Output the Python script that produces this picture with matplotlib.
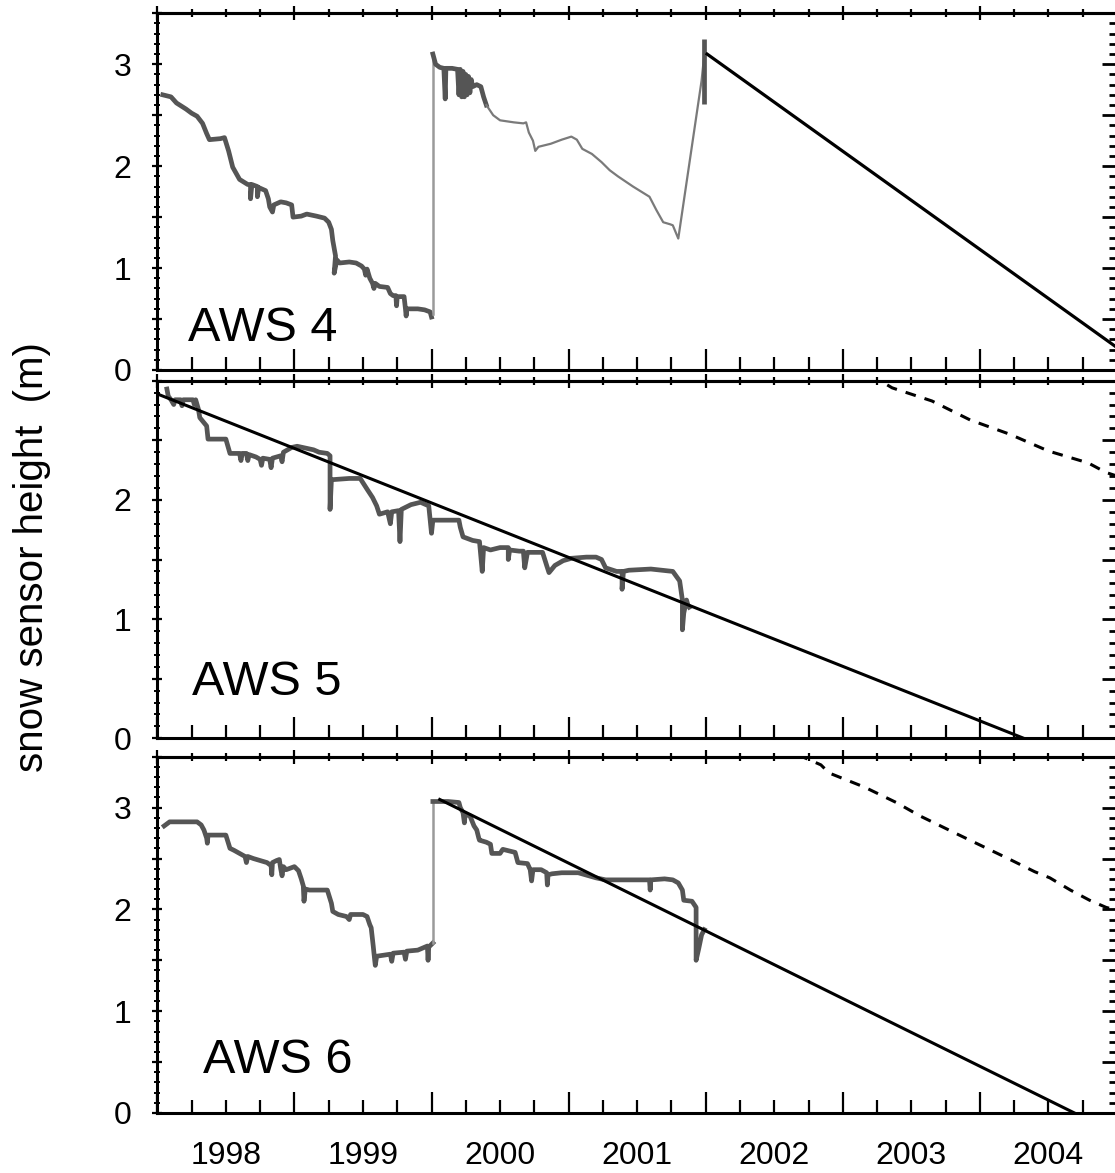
import matplotlib
matplotlib.use("Agg")
import matplotlib.pyplot as plt
from matplotlib.ticker import MultipleLocator, FuncFormatter, NullFormatter

plt.rcParams['font.family'] = ['Liberation Sans', 'DejaVu Sans']

# ---------------- data (decimal year, snow sensor height in m) ----------------
# AWS 4
aws4_a_year = [1998.04, 1998.10, 1998.14, 1998.21, 1998.25, 1998.29, 1998.33, 1998.36, 1998.38, 1998.46,
               1998.49, 1998.52, 1998.55, 1998.60, 1998.66, 1998.68, 1998.68, 1998.69, 1998.73, 1998.73,
               1998.74, 1998.79, 1998.81, 1998.82, 1998.84, 1998.85, 1998.90, 1998.94, 1998.98, 1998.99,
               1999.05, 1999.09, 1999.16, 1999.22, 1999.25, 1999.27, 1999.28, 1999.30, 1999.29, 1999.31,
               1999.33, 1999.40, 1999.45, 1999.49, 1999.51, 1999.52, 1999.53, 1999.55, 1999.57, 1999.58,
               1999.59, 1999.62, 1999.68, 1999.70, 1999.72, 1999.74, 1999.745, 1999.75, 1999.80, 1999.81,
               1999.815, 1999.82, 1999.90, 1999.95, 1999.99, 2000.00]
aws4_a_val = [2.70, 2.68, 2.62, 2.56, 2.52, 2.49, 2.42, 2.32, 2.26, 2.27,
              2.28, 2.15, 1.99, 1.87, 1.82, 1.82, 1.68, 1.82, 1.80, 1.70,
              1.79, 1.76, 1.68, 1.60, 1.55, 1.62, 1.65, 1.64, 1.62, 1.50,
              1.51, 1.53, 1.51, 1.49, 1.45, 1.38, 1.27, 1.12, 0.95, 1.08,
              1.05, 1.06, 1.05, 1.02, 0.99, 0.93, 0.99, 0.90, 0.85, 0.80,
              0.85, 0.82, 0.81, 0.75, 0.73, 0.73, 0.63, 0.72, 0.72, 0.60,
              0.53, 0.60, 0.60, 0.59, 0.57, 0.52]
aws4_jump_year = [2000.01, 2000.01]
aws4_jump_val = [0.55, 3.10]
aws4_b_year = [2000.01, 2000.03, 2000.06, 2000.09, 2000.10, 2000.105, 2000.15, 2000.19, 2000.20, 2000.21,
               2000.22, 2000.23, 2000.24, 2000.25, 2000.26, 2000.27, 2000.28, 2000.29, 2000.30, 2000.33,
               2000.36, 2000.38, 2000.40]
aws4_b_val = [3.10, 3.00, 2.97, 2.96, 2.66, 2.96, 2.96, 2.95, 2.70, 2.95,
              2.68, 2.93, 2.68, 2.90, 2.70, 2.88, 2.72, 2.85, 2.78, 2.80,
              2.78, 2.68, 2.60]
aws4_c_year = [2000.40, 2000.45, 2000.50, 2000.60, 2000.67, 2000.69, 2000.71, 2000.74, 2000.757, 2000.78,
               2000.87, 2000.95, 2001.02, 2001.06, 2001.10, 2001.17, 2001.24, 2001.30, 2001.36, 2001.47,
               2001.59, 2001.64, 2001.69, 2001.74, 2001.76, 2001.80, 2001.97, 2001.99]
aws4_c_val = [2.60, 2.50, 2.45, 2.43, 2.42, 2.43, 2.33, 2.25, 2.15, 2.19,
              2.22, 2.26, 2.29, 2.26, 2.17, 2.12, 2.04, 1.96, 1.90, 1.80,
              1.70, 1.57, 1.45, 1.43, 1.42, 1.29, 2.84, 3.10]
aws4_spike_year = [2001.99, 2001.99]
aws4_spike_val = [3.25, 2.61]
aws4_fit_year = [2002.01, 2005.0]
aws4_fit_val = [3.10, 0.22]

# AWS 5
aws5_year = [1998.07, 1998.08, 1998.10, 1998.12, 1998.13, 1998.17, 1998.18, 1998.19, 1998.26, 1998.27,
             1998.28, 1998.30, 1998.31, 1998.36, 1998.37, 1998.50, 1998.53, 1998.60, 1998.61, 1998.62,
             1998.65, 1998.66, 1998.67, 1998.72, 1998.75, 1998.76, 1998.77, 1998.82, 1998.83, 1998.84,
             1998.90, 1998.91, 1998.92, 1998.98, 1999.02, 1999.10, 1999.14, 1999.18, 1999.24, 1999.26,
             1999.26, 1999.27, 1999.28, 1999.40, 1999.48, 1999.53, 1999.57, 1999.60, 1999.62, 1999.68,
             1999.70, 1999.71, 1999.76, 1999.77, 1999.78, 1999.85, 1999.92, 1999.98, 2000.00, 2000.01,
             2000.10, 2000.20, 2000.21, 2000.23, 2000.30, 2000.35, 2000.37, 2000.38, 2000.43, 2000.50,
             2000.52, 2000.56, 2000.56, 2000.57, 2000.64, 2000.67, 2000.68, 2000.70, 2000.81, 2000.84,
             2000.857, 2000.90, 2000.96, 2001.02, 2001.13, 2001.20, 2001.24, 2001.27, 2001.35, 2001.39,
             2001.39, 2001.40, 2001.44, 2001.60, 2001.76, 2001.81, 2001.83, 2001.83, 2001.84, 2001.86,
             2001.87, 2001.88]
aws5_val = [2.93, 2.87, 2.84, 2.80, 2.84, 2.84, 2.79, 2.84, 2.84, 2.80,
            2.84, 2.76, 2.69, 2.62, 2.51, 2.51, 2.39, 2.39, 2.33, 2.39,
            2.39, 2.33, 2.38, 2.36, 2.34, 2.29, 2.35, 2.34, 2.27, 2.35,
            2.37, 2.32, 2.40, 2.44, 2.45, 2.43, 2.42, 2.40, 2.39, 2.37,
            1.92, 2.17, 2.17, 2.18, 2.18, 2.09, 2.02, 1.95, 1.88, 1.90,
            1.80, 1.90, 1.91, 1.65, 1.92, 1.96, 1.98, 1.95, 1.72, 1.83,
            1.83, 1.83, 1.77, 1.69, 1.66, 1.65, 1.40, 1.60, 1.58, 1.60,
            1.60, 1.60, 1.50, 1.58, 1.57, 1.57, 1.43, 1.56, 1.56, 1.45,
            1.39, 1.45, 1.49, 1.51, 1.52, 1.52, 1.50, 1.43, 1.40, 1.40,
            1.25, 1.40, 1.41, 1.42, 1.40, 1.32, 1.16, 0.91, 1.05, 1.16,
            1.12, 1.10]
aws5_fit_year = [1998.02, 2004.32]
aws5_fit_val = [2.88, 0.0]
aws5_dash_year = [2003.20, 2003.36, 2003.65, 2003.93, 2004.22, 2004.50, 2004.79, 2004.92, 2005.0]
aws5_dash_val = [3.05, 2.94, 2.83, 2.67, 2.55, 2.41, 2.31, 2.23, 2.20]

# AWS 6
aws6_a_year = [1998.05, 1998.09, 1998.20, 1998.29, 1998.32, 1998.34, 1998.36, 1998.365, 1998.37, 1998.50,
               1998.53, 1998.56, 1998.60, 1998.64, 1998.65, 1998.66, 1998.70, 1998.75, 1998.80, 1998.83,
               1998.835, 1998.84, 1998.87, 1998.89, 1998.90, 1998.91, 1998.92, 1998.94, 1999.00, 1999.03,
               1999.05, 1999.065, 1999.07, 1999.08, 1999.11, 1999.24, 1999.27, 1999.28, 1999.32, 1999.38,
               1999.40, 1999.41, 1999.50, 1999.53, 1999.55, 1999.56, 1999.575, 1999.585, 1999.59, 1999.60,
               1999.65, 1999.70, 1999.71, 1999.72, 1999.80, 1999.81, 1999.82, 1999.90, 1999.97, 1999.975,
               1999.98, 2000.01]
aws6_a_val = [2.82, 2.86, 2.86, 2.86, 2.83, 2.78, 2.70, 2.65, 2.73, 2.73,
              2.60, 2.58, 2.55, 2.52, 2.46, 2.52, 2.50, 2.48, 2.46, 2.43,
              2.34, 2.46, 2.48, 2.49, 2.40, 2.33, 2.42, 2.39, 2.42, 2.38,
              2.30, 2.23, 2.08, 2.20, 2.19, 2.19, 2.06, 1.98, 1.95, 1.93,
              1.90, 1.95, 1.95, 1.93, 1.85, 1.82, 1.64, 1.51, 1.45, 1.54,
              1.55, 1.56, 1.49, 1.57, 1.58, 1.51, 1.59, 1.60, 1.64, 1.50,
              1.63, 1.67]
aws6_jump_year = [2000.01, 2000.01]
aws6_jump_val = [1.67, 3.06]
aws6_b_year = [2000.01, 2000.05, 2000.12, 2000.20, 2000.21, 2000.23, 2000.24, 2000.245, 2000.28, 2000.31,
               2000.33, 2000.345, 2000.35, 2000.40, 2000.43, 2000.44, 2000.50, 2000.52, 2000.61, 2000.63,
               2000.70, 2000.72, 2000.73, 2000.74, 2000.80, 2000.84, 2000.845, 2000.85, 2000.88, 2000.95,
               2001.07, 2001.20, 2001.27, 2001.40, 2001.59, 2001.595, 2001.60, 2001.70, 2001.76, 2001.80,
               2001.83, 2001.84, 2001.90, 2001.93, 2001.93, 2001.95, 2001.97, 2001.99]
aws6_b_val = [3.06, 3.06, 3.06, 3.05, 3.00, 2.95, 2.85, 2.93, 2.92, 2.82,
              2.78, 2.70, 2.68, 2.66, 2.64, 2.55, 2.55, 2.59, 2.56, 2.46,
              2.45, 2.39, 2.28, 2.39, 2.39, 2.36, 2.24, 2.34, 2.35, 2.36,
              2.36, 2.31, 2.29, 2.29, 2.29, 2.19, 2.29, 2.30, 2.29, 2.26,
              2.19, 2.09, 2.08, 2.02, 1.50, 1.62, 1.75, 1.80]
aws6_fit_year = [2000.06, 2004.69]
aws6_fit_val = [3.08, 0.0]
aws6_dash_year = [2002.67, 2002.84, 2002.90, 2003.16, 2003.39, 2003.56, 2003.85, 2004.22, 2004.40, 2004.51,
                  2004.66, 2004.80, 2004.92, 2005.0]
aws6_dash_val = [3.52, 3.42, 3.34, 3.20, 3.05, 2.92, 2.73, 2.49, 2.37, 2.31,
                 2.19, 2.09, 2.02, 1.99]

year_labels = ['1998', '1999', '2000', '2001', '2002', '2003', '2004']
station_names = ['AWS 4', 'AWS 5', 'AWS 6']

# ---------------- figure ----------------
W, H = 1115, 1173
fig = plt.figure(figsize=(W / 100, H / 100), dpi=100)


def rect(left, top, right, bottom):
    return [left / W, 1 - bottom / H, (right - left) / W, (bottom - top) / H]


ax1 = fig.add_axes(rect(157.3, 13.3, 1117, 370))
ax2 = fig.add_axes(rect(157.3, 380.7, 1117, 738.3))
ax3 = fig.add_axes(rect(157.3, 756.7, 1117, 1113))

DARK = '#555555'
THIN = '#7a7a7a'
LIGHT = '#9a9a9a'


def style(ax, ymax, ylab_max, show_x):
    ax.set_xlim(1998, 2005)
    ax.set_ylim(0, ymax)
    for s in ax.spines.values():
        s.set_linewidth(2.2)
    # x axis (bottom)
    ax.xaxis.set_major_locator(MultipleLocator(1))
    ax.xaxis.set_minor_locator(MultipleLocator(0.25))
    ax.xaxis.set_major_formatter(NullFormatter())
    if show_x:
        ax.xaxis.set_minor_formatter(FuncFormatter(
            lambda x, p: year_labels[int(x) - 1998] if abs((x % 1) - 0.5) < 1e-6 and 0 <= int(x) - 1998 < len(year_labels) else ''))
    else:
        ax.xaxis.set_minor_formatter(NullFormatter())
    ax.tick_params(axis='x', which='major', direction='in', length=15, width=1.6,
                   bottom=True, top=False)
    ax.tick_params(axis='x', which='minor', direction='in', length=9.4, width=1.6,
                   bottom=True, top=False, labelsize=23, pad=20)
    # y axis (left)
    ax.yaxis.set_major_locator(MultipleLocator(0.5))
    ax.yaxis.set_minor_locator(MultipleLocator(0.1))
    ax.yaxis.set_major_formatter(FuncFormatter(
        lambda v, p: f'{int(round(v))}' if abs(v - round(v)) < 1e-6 and v <= ylab_max + 1e-6 else ''))
    ax.tick_params(axis='y', which='major', direction='inout', length=7, width=1.6,
                   left=True, right=False, labelsize=23, pad=15)
    ax.tick_params(axis='y', which='minor', direction='inout', length=5, width=1.4,
                   left=True, right=False)
    # top ticks
    sx = ax.secondary_xaxis('top')
    sx.xaxis.set_major_locator(MultipleLocator(1))
    sx.xaxis.set_minor_locator(MultipleLocator(0.25))
    sx.xaxis.set_major_formatter(NullFormatter())
    sx.xaxis.set_minor_formatter(NullFormatter())
    sx.tick_params(which='major', direction='inout', length=10, width=1.6)
    sx.tick_params(which='minor', direction='inout', length=5.5, width=1.6)
    sx.spines['top'].set_linewidth(2.2)
    # right ticks
    sy = ax.secondary_yaxis('right')
    sy.yaxis.set_major_locator(MultipleLocator(0.5))
    sy.yaxis.set_minor_locator(MultipleLocator(0.1))
    sy.yaxis.set_major_formatter(NullFormatter())
    sy.yaxis.set_minor_formatter(NullFormatter())
    sy.tick_params(which='major', direction='in', length=11, width=2.0)
    sy.tick_params(which='minor', direction='in', length=6, width=2.0)


style(ax1, 3.5, 3, False)
style(ax2, 3.0, 2, False)
style(ax3, 3.5, 3, True)

# panel 1
ax1.plot(aws4_a_year, aws4_a_val, color=DARK, lw=3.4)
ax1.plot(aws4_jump_year, aws4_jump_val, color=LIGHT, lw=1.8)
ax1.plot(aws4_b_year, aws4_b_val, color=DARK, lw=3.4)
ax1.plot(aws4_c_year, aws4_c_val, color=THIN, lw=1.6)
ax1.plot(aws4_spike_year, aws4_spike_val, color=DARK, lw=3.4, solid_capstyle='butt')
ax1.plot(aws4_fit_year, aws4_fit_val, color='black', lw=2.3)

# panel 2
ax2.plot(aws5_year, aws5_val, color=DARK, lw=3.4)
ax2.plot(aws5_fit_year, aws5_fit_val, color='black', lw=2.2)
ax2.plot(aws5_dash_year, aws5_dash_val, color='black', lw=2.2, linestyle=(0, (3.5, 3)))

# panel 3
ax3.plot(aws6_a_year, aws6_a_val, color=DARK, lw=3.4)
ax3.plot(aws6_jump_year, aws6_jump_val, color=LIGHT, lw=1.8)
ax3.plot(aws6_b_year, aws6_b_val, color=DARK, lw=3.4)
ax3.plot(aws6_fit_year, aws6_fit_val, color='black', lw=2.2)
ax3.plot(aws6_dash_year, aws6_dash_val, color='black', lw=2.2, linestyle=(0, (3.5, 3)))

# station labels
ax1.text(0.032, 0.081, station_names[0], transform=ax1.transAxes, fontsize=35, ha='left', va='baseline')
ax2.text(0.036, 0.121, station_names[1], transform=ax2.transAxes, fontsize=35, ha='left', va='baseline')
ax3.text(0.048, 0.112, station_names[2], transform=ax3.transAxes, fontsize=35, ha='left', va='baseline')

fig.text(32 / W, 1 - 557 / H, 'snow sensor height  (m)', rotation=90, ha='center', va='center', fontsize=29)

fig.savefig('out.png', dpi=100)
